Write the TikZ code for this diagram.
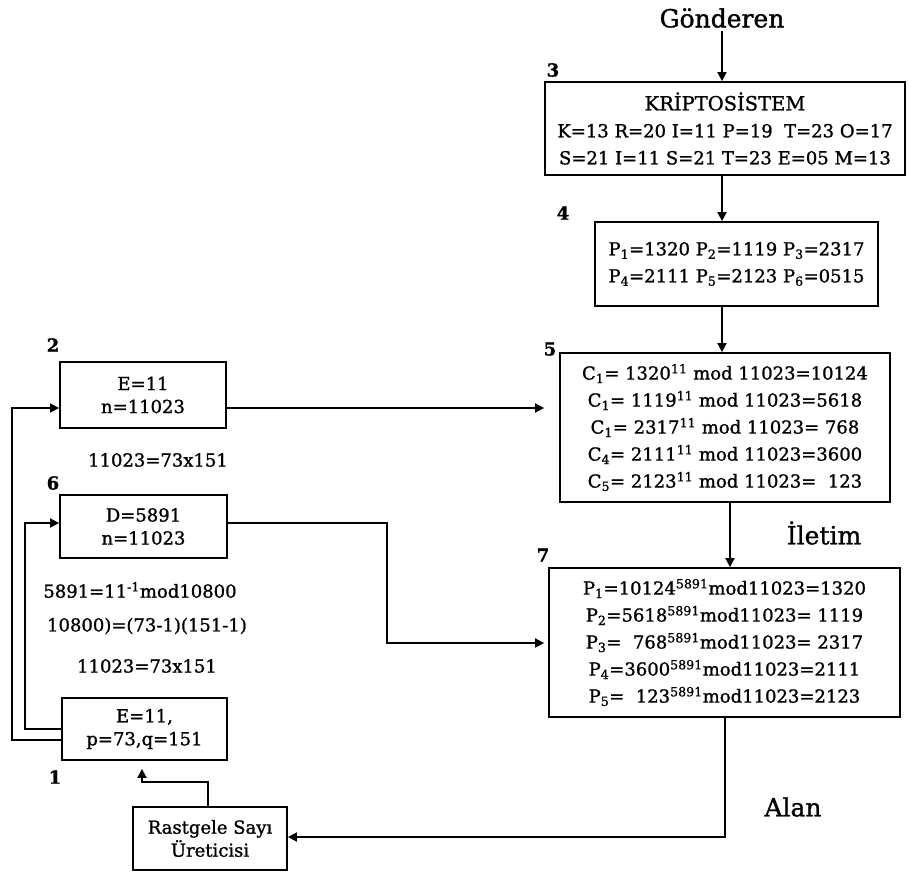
\documentclass[tikz,border=0pt]{standalone}
\usepackage{fontspec}
\setmainfont[FakeBold=1.2]{DejaVu Serif}
\usetikzlibrary{arrows.meta}
\newcommand\sbs[1]{\textsubscript{#1}}
\newcommand\sps[1]{\textsuperscript{#1}}
\newfontfamily\heavy[FakeBold=1.2]{DejaVu Serif}
\begin{document}
\begin{tikzpicture}[x=1pt,y=-1pt,
  box/.style={draw, line width=1.8pt, align=center, inner sep=0pt, font=\heavy\fontsize{18}{27}\selectfont},
  sbox/.style={box, font=\heavy\fontsize{18}{23}\selectfont},
  arr/.style={-{Triangle[width=9pt,length=9pt]}},
  ln/.style={line width=1.8pt},
  lbl/.style={font=\bfseries\fontsize{18}{18}\selectfont},
  txt/.style={font=\heavy\fontsize{18}{22}\selectfont},
  big/.style={font=\heavy\fontsize{25}{25}\selectfont}]
\useasboundingbox (0,0) rectangle (909,872);
% boxes
\node[box, minimum width=360pt, minimum height=93pt] (b3) at (725,128.5)
  {{\fontsize{19.5}{27}\selectfont KRİPTOSİSTEM}\\K=13 R=20 I=11 P=19 \ T=23 O=17\\S=21 I=11 S=21 T=23 E=05 M=13};
\node[box, minimum width=283pt, minimum height=84pt] (b4) at (736.5,264)
  {P\sbs{1}=1320 P\sbs{2}=1119 P\sbs{3}=2317\\P\sbs{4}=2111 P\sbs{5}=2123 P\sbs{6}=0515};
\node[box, minimum width=330pt, minimum height=149pt] (b5) at (725,427.5)
  {C\sbs{1}= 1320\sps{11} mod 11023=10124\\
   C\sbs{1}= 1119\sps{11} mod 11023=5618\\
   C\sbs{1}= 2317\sps{11} mod 11023= 768\\
   C\sbs{4}= 2111\sps{11} mod 11023=3600\\
   C\sbs{5}= 2123\sps{11} mod 11023= \ 123};
\node[box, minimum width=351pt, minimum height=149pt] (b7) at (724.5,642.5)
  {P\sbs{1}=10124\sps{5891}mod11023=1320\\
   P\sbs{2}=5618\sps{5891}mod11023= 1119\\
   P\sbs{3}= \ 768\sps{5891}mod11023= 2317\\
   P\sbs{4}=3600\sps{5891}mod11023=2111\\
   P\sbs{5}= \ 123\sps{5891}mod11023=2123};
\node[sbox, minimum width=166pt, minimum height=66pt] (b2) at (143,395) {E=11\\n=11023};
\node[sbox, minimum width=167pt, minimum height=63pt] (b6) at (143.5,526.5) {D=5891\\n=11023};
\node[sbox, minimum width=165pt, minimum height=62pt] (b1) at (144.5,729) {E=11,\\p=73,q=151};
\node[sbox, minimum width=154pt, minimum height=63pt] (rs) at (210,838.5) {Rastgele Sayı\\Üreticisi};
% number labels
\node[lbl] (l3) at (553,70) {3};
\node[lbl] (l4) at (563,213) {4};
\node[lbl] (l5) at (550,349) {5};
\node[lbl] (l7) at (543,555) {7};
\node[lbl] (l2) at (53,345) {2};
\node[lbl] (l6) at (53,483) {6};
\node[lbl] (l1) at (55,777) {1};
% free texts
\node[big] (gon) at (722,18) {Gönderen};
\node[big] (ilt) at (824,533) {İletim};
\node[big] (alan) at (793,807) {Alan};
\node[txt] (t1) at (158,460) {11023=73x151};
\node[txt] (t2) at (140,590) {5891=11\sps{-1}mod10800};
\node[txt] (t3) at (147,626) {10800)=(73-1)(151-1)};
\node[txt] (t4) at (147,666) {11023=73x151};
% helper coordinates
\coordinate (cx) at (730,0);
\coordinate (dx) at (725,837);
\coordinate (ex) at (208,782);
\coordinate (fx) at (142,782);
\coordinate (o1) at (12,740);
\coordinate (o2) at (12,408);
\coordinate (i1) at (25,729);
\coordinate (i2) at (25,523);
\coordinate (j1) at (387,523);
\coordinate (j2) at (387,643);
% connectors
\draw[ln,arr] (gon.south) -- (b3.north -| gon.south);
\draw[ln,arr] (b3.south -| gon.south) -- (b4.north -| gon.south);
\draw[ln,arr] (b4.south -| gon.south) -- (b5.north -| gon.south);
\draw[ln,arr] (b5.south -| cx) -- (b7.north -| cx);
\draw[ln,arr] (b7.south -| dx) -- (dx) -- (rs.east |- dx);
\draw[ln,arr,shorten >=8pt] (rs.north -| ex) -- (ex) -- (fx) -- (b1.south -| fx);
\draw[ln,arr] (b1.west |- o1) -- (o1) -- (o2) -- (b2.west |- o2);
\draw[ln,arr] (b1.west |- i1) -- (i1) -- (i2) -- (b6.west |- i2);
\draw[ln,arr,shorten >=15pt] (b2.east |- o2) -- (b5.west |- o2);
\draw[ln,arr,shorten >=4pt] (b6.east |- j1) -- (j1) -- (j2) -- (b7.west |- j2);
\end{tikzpicture}
\end{document}
